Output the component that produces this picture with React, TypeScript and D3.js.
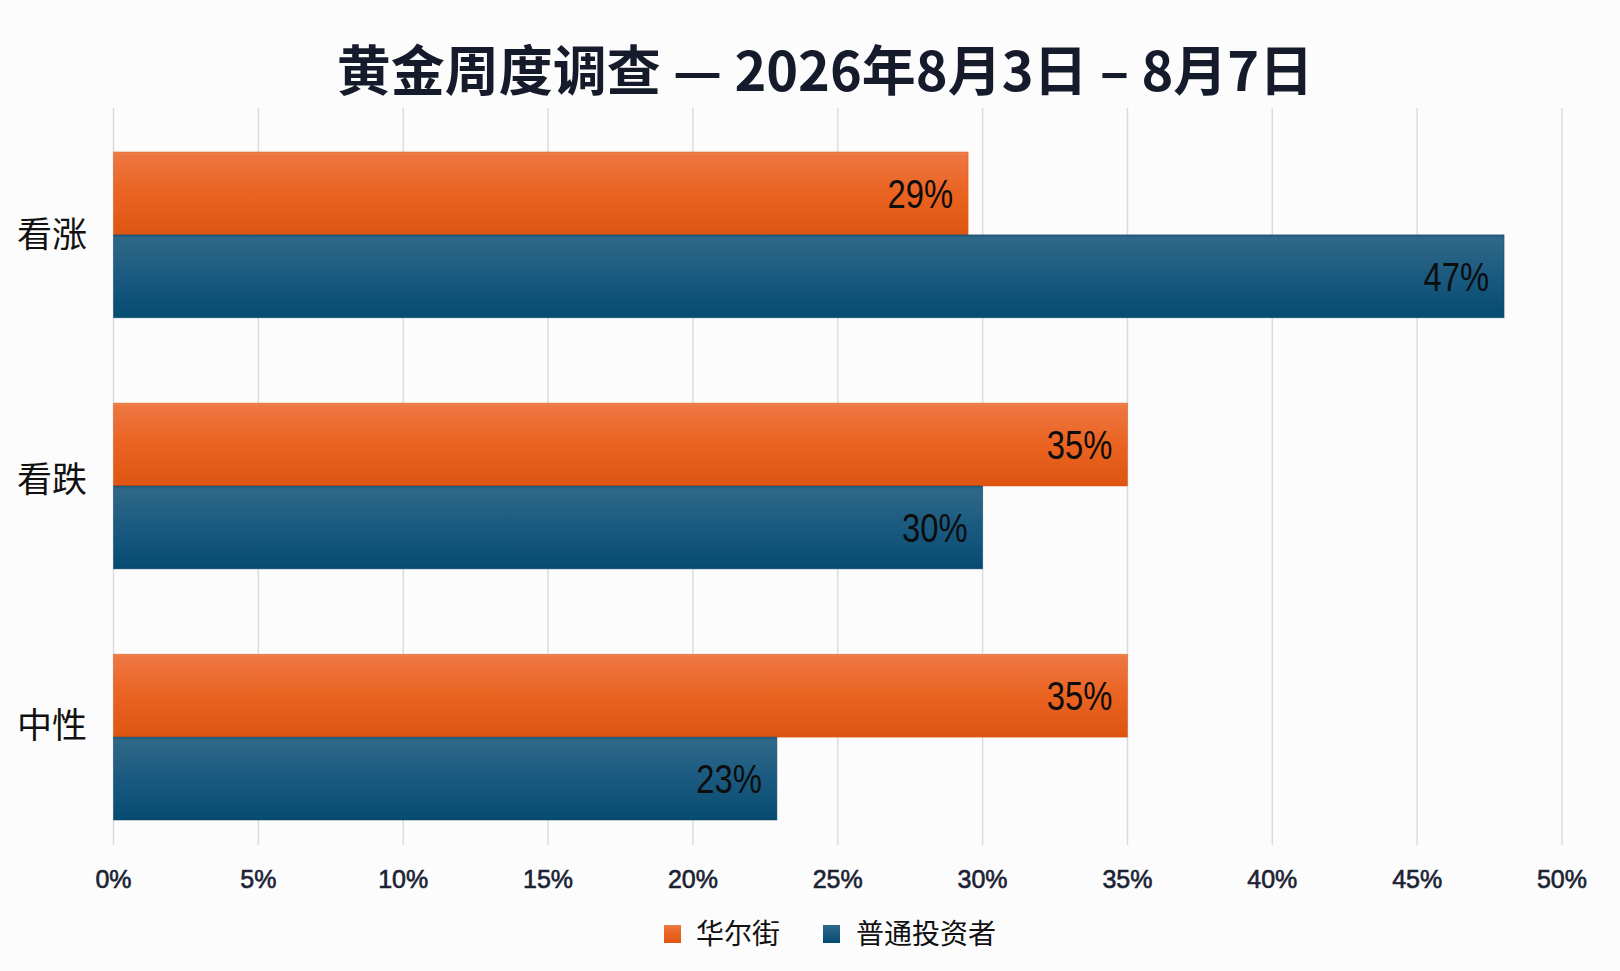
import React from "react";
import * as d3 from "d3";

const categories = ["看涨", "看跌", "中性"];
const seriesNames = ["华尔街", "普通投资者"];
const wallStreet = [29.5, 35, 35];
const mainStreet = [48, 30, 22.9];
const wallStreetLabels = ["29%", "35%", "35%"];
const mainStreetLabels = ["47%", "30%", "23%"];
const xTicks = [0, 5, 10, 15, 20, 25, 30, 35, 40, 45, 50];
const title = "黄金周度调查 — 2026年8月3日 – 8月7日";

const W = 1620;
const H = 971;

export default function App() {
  const x = d3.scaleLinear().domain([0, 50]).range([113.5, 1562]);
  const y = d3.scaleBand<string>().domain(categories).range([152, 820]).paddingInner(0.34).paddingOuter(0);
  const ySub = d3.scaleBand<string>().domain(seriesNames).range([0, y.bandwidth()]).padding(0);
  const yLabel = d3.scalePoint<string>().domain(categories).range([231, 722]);
  const series = [
    { name: seriesNames[0], values: wallStreet, labels: wallStreetLabels, grad: "gOrange", stroke: "#d9530f" },
    { name: seriesNames[1], values: mainStreet, labels: mainStreetLabels, grad: "gBlue", stroke: "#0a4063" },
  ];
  const cjk = "'Noto Sans CJK SC', 'Noto Sans', sans-serif";
  const sans = "'Liberation Sans', Arial, sans-serif";
  return (
    <svg width={W} height={H} style={{ position: "absolute", left: 0, top: 0, display: "block" }}>
      <defs>
        <linearGradient id="gOrange" x1="0" y1="0" x2="0" y2="1">
          <stop offset="0" stopColor="#f08350" />
          <stop offset="0.04" stopColor="#ee7642" />
          <stop offset="0.5" stopColor="#ea6320" />
          <stop offset="1" stopColor="#de5512" />
        </linearGradient>
        <linearGradient id="gBlue" x1="0" y1="0" x2="0" y2="1">
          <stop offset="0" stopColor="#1f5a7e" />
          <stop offset="0.04" stopColor="#2f6888" />
          <stop offset="0.5" stopColor="#1a5a80" />
          <stop offset="1" stopColor="#064b70" />
        </linearGradient>
      </defs>
      <rect x={0} y={0} width={W} height={H} fill="#fcfcfc" />
      <text x={825} y={67} textAnchor="middle" dominantBaseline="central" fontFamily={cjk} fontWeight={700} fontSize={54} fill="#151b2b">
        {title}
      </text>
      {xTicks.map((t) => (
        <line key={"g" + t} x1={x(t)} x2={x(t)} y1={108} y2={845} stroke="#d9dce5" strokeWidth={1.5} />
      ))}
      {xTicks.map((t) => (
        <text key={"t" + t} x={x(t)} y={879} textAnchor="middle" dominantBaseline="central" fontFamily={sans} fontSize={25} fill="#1b2233" stroke="#1b2233" strokeWidth={0.6}>
          {t + "%"}
        </text>
      ))}
      {categories.map((c) => (
        <text key={"c" + c} x={17} y={yLabel(c)} dominantBaseline="central" fontFamily={cjk} fontSize={35} fill="#111">
          {c}
        </text>
      ))}
      {series.map((s) =>
        categories.map((c, i) => {
          const y0 = (y(c) as number) + (ySub(s.name) as number);
          const h = ySub.bandwidth();
          const x1 = x(s.values[i]);
          return (
            <g key={s.name + c}>
              <rect x={x(0)} y={y0} width={x1 - x(0)} height={h} fill={`url(#${s.grad})`} stroke={s.stroke} strokeWidth={0.8} strokeOpacity={0.6} />
              <text transform={`translate(${x1 - 15},${y0 + h / 2 + 1}) scale(0.82,1)`} textAnchor="end" dominantBaseline="central" fontFamily={sans} fontSize={40} fill="#0d0d0d">
                {s.labels[i]}
              </text>
            </g>
          );
        })
      )}
      <g>
        <rect x={664} y={925} width={17} height={18} fill="url(#gOrange)" />
        <text x={696} y={932} dominantBaseline="central" fontFamily={cjk} fontSize={28} fill="#111">{seriesNames[0]}</text>
        <rect x={823} y={925} width={17} height={18} fill="url(#gBlue)" />
        <text x={856} y={932} dominantBaseline="central" fontFamily={cjk} fontSize={28} fill="#111">{seriesNames[1]}</text>
      </g>
    </svg>
  );
}
